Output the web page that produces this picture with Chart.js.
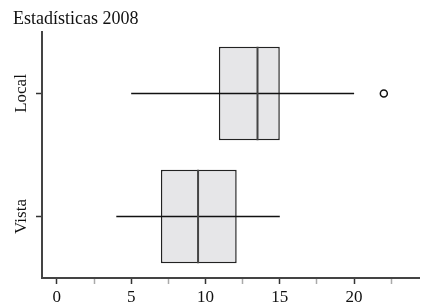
<!DOCTYPE html>
<html>
<head>
<meta charset="utf-8">
<script src="https://cdn.jsdelivr.net/npm/chart.js@4/dist/chart.umd.min.js"></script>
<style>
html,body{margin:0;padding:0;background:#fff;}
#wrap{width:425px;height:303px;position:relative;}
</style>
</head>
<body>
<div id="wrap"><canvas id="c"></canvas></div>
<script>
const categories = ['Local', 'Vista'];
const q1 = [10.9, 7.0];
const median = [13.5, 9.5];
const q3 = [15.0, 12.1];
const whiskerMin = [5.0, 4.0];
const whiskerMax = [20.0, 15.0];
const outliers = [[22.0], []];
const xTickValues = [0, 2.5, 5, 7.5, 10, 12.5, 15, 17.5, 20, 22.5];
const xTickLabels = ['0', '', '5', '', '10', '', '15', '', '20', ''];

const FONT = "'Liberation Serif', 'DejaVu Serif', serif";

const outlierPoints = [];
outliers.forEach((arr, i) => arr.forEach(v => outlierPoints.push({x: v, y: categories[i]})));

const boxPlugin = {
  id: 'boxParts',
  afterDatasetsDraw(chart) {
    const ctx = chart.ctx;
    const xs = chart.scales.x;
    const meta = chart.getDatasetMeta(0);
    ctx.save();
    meta.data.forEach((bar, i) => {
      const y = bar.y, h = bar.height;
      ctx.beginPath();
      ctx.strokeStyle = '#111';
      ctx.lineWidth = 1.5;
      ctx.moveTo(xs.getPixelForValue(whiskerMin[i]), y);
      ctx.lineTo(xs.getPixelForValue(whiskerMax[i]), y);
      ctx.stroke();
      const xm = xs.getPixelForValue(median[i]);
      ctx.beginPath();
      ctx.strokeStyle = '#444';
      ctx.lineWidth = 2;
      ctx.moveTo(xm, y - h / 2);
      ctx.lineTo(xm, y + h / 2);
      ctx.stroke();
    });
    ctx.restore();
  },
  afterDraw(chart) {
    const ctx = chart.ctx;
    const ys = chart.scales.y;
    ctx.save();
    ctx.fillStyle = '#111';
    ctx.font = "17px " + FONT;
    ctx.textAlign = 'center';
    ctx.textBaseline = 'middle';
    categories.forEach((c, i) => {
      const y = ys.getPixelForValue(i);
      ctx.save();
      ctx.translate(22, y);
      ctx.rotate(-Math.PI / 2);
      ctx.fillText(c, 0, 0);
      ctx.restore();
    });
    ctx.restore();
  }
};

new Chart(document.getElementById('c'), {
  type: 'bar',
  data: {
    labels: categories,
    datasets: [
      {
        type: 'bar',
        indexAxis: 'y',
        data: categories.map((c, i) => [q1[i], q3[i]]),
        backgroundColor: '#e6e6e8',
        borderColor: '#222',
        borderWidth: 1.5,
        borderSkipped: false,
        categoryPercentage: 1.0,
        barPercentage: 0.76,
        order: 2
      },
      {
        type: 'scatter',
        data: outlierPoints,
        pointRadius: 3.5,
        pointBackgroundColor: '#fff',
        pointBorderColor: '#111',
        pointBorderWidth: 1.5,
        order: 1
      }
    ]
  },
  options: {
    responsive: true,
    maintainAspectRatio: false,
    animation: false,
    events: [],
    layout: {padding: {left: 13, right: 2, top: 0, bottom: 0}},
    plugins: {
      legend: {display: false},
      tooltip: {enabled: false},
      title: {
        display: true,
        text: 'Estadísticas 2008',
        align: 'start',
        color: '#111',
        font: {family: FONT, size: 18, weight: 'normal', lineHeight: 1.2},
        padding: {top: 8, bottom: 2.4}
      }
    },
    scales: {
      x: {
        type: 'linear',
        offset: false,
        min: -1,
        max: 24.4,
        afterBuildTicks(scale) {
          scale.ticks = xTickValues.map(v => ({value: v}));
        },
        afterFit(scale) { scale.height = 25; },
        ticks: {
          autoSkip: false,
          maxRotation: 0,
          color: '#111',
          padding: 3,
          font: {family: FONT, size: 17},
          callback(value, index) { return xTickLabels[index]; }
        },
        grid: {
          offset: false,
          drawOnChartArea: false,
          drawTicks: true,
          tickLength: 6,
          tickWidth: 1.5,
          tickColor: (ctx) => (ctx.index % 2 === 0 ? '#333' : '#aaa')
        },
        border: {display: true, color: '#444', width: 2}
      },
      y: {
        type: 'category',
        offset: true,
        afterFit(scale) { scale.width = 29; },
        ticks: {display: false},
        grid: {
          offset: false,
          drawOnChartArea: false,
          drawTicks: true,
          tickLength: 6,
          tickWidth: 1.5,
          tickColor: '#333'
        },
        border: {display: true, color: '#444', width: 2}
      }
    }
  },
  plugins: [boxPlugin]
});
</script>
</body>
</html>
